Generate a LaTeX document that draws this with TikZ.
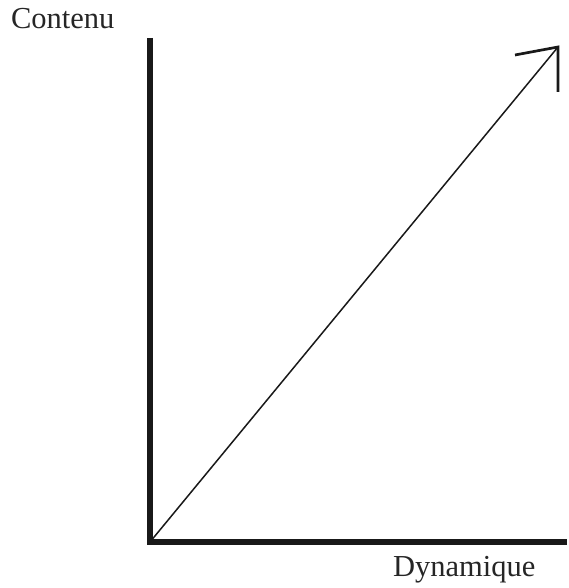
\documentclass[tikz,border=0pt]{standalone}
\usepackage{fontspec}
\setmainfont{Liberation Serif}
\tikzset{
  axisline/.style={line width=6pt, line join=miter, line cap=butt, draw=black!90},
  diagline/.style={line width=1.5pt, draw=black!90},
  arrowarm/.style={line width=2.7pt, line join=miter, draw=black!90},
  lbl/.style={anchor=base west, inner sep=0pt, outer sep=0pt, font=\fontsize{30.5}{34}\selectfont, text=black!85}
}
\begin{document}
\begin{tikzpicture}[x=1pt,y=1pt]
\useasboundingbox (0,0) rectangle (569,588);
\coordinate (T) at (150,550);
\coordinate (O) at (150,46);
\coordinate (R) at (567,46);
\coordinate (tip) at (558,541);
\coordinate (A1) at (515,533);
\coordinate (A2) at (558,496);
\draw[diagline] (O) -- (tip);
\draw[arrowarm] (A1) -- (tip) -- (A2);
\draw[axisline] (T) -- (O) -- (R);
\node[lbl] (contenu) at (11,559) {Contenu};
\node[lbl] (dyn) at (393,11) {Dynamique};
\end{tikzpicture}
\end{document}
